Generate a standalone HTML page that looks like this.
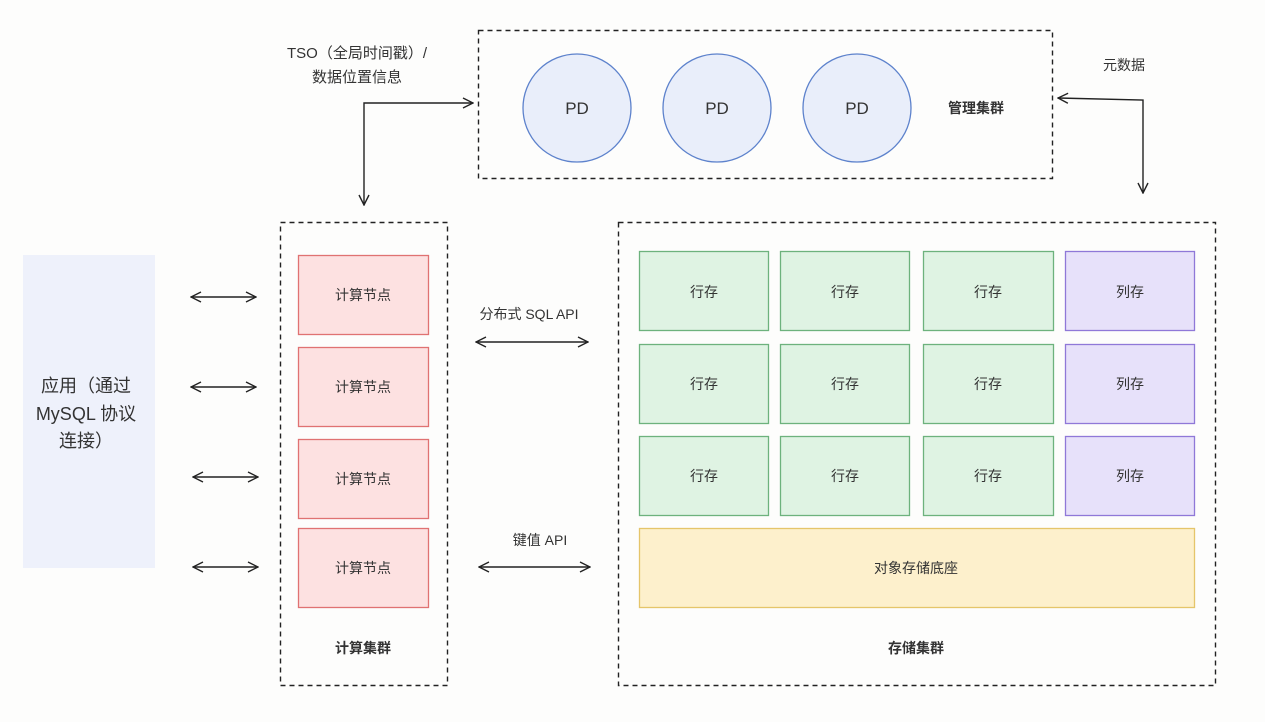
<!DOCTYPE html>
<html><head><meta charset="utf-8"><style>
html,body{margin:0;padding:0;background:#fdfdfc;}
svg{display:block;}
text{font-family:"Liberation Sans","Noto Sans CJK SC",sans-serif;fill:#333;}
</style></head><body>
<svg width="1265" height="722" viewBox="0 0 1265 722" xmlns="http://www.w3.org/2000/svg">
<defs>
<marker id="a" viewBox="0 0 12 12" refX="11" refY="6" markerWidth="12" markerHeight="12" markerUnits="userSpaceOnUse" orient="auto-start-reverse">
<path d="M1,1 L11,6 L1,11" fill="none" stroke="#222" stroke-width="1.4"/>
</marker>
</defs>
<rect width="1265" height="722" fill="#fdfdfc"/>
<rect x="478.5" y="30.5" width="574" height="148" fill="none" stroke="#222" stroke-width="1.4" stroke-dasharray="5,4"/>
<g fill="#e9eefa" stroke="#5d82cc" stroke-width="1.3">
<circle cx="577" cy="108" r="54"/><circle cx="717" cy="108" r="54"/><circle cx="857" cy="108" r="54"/>
</g>
<g font-size="17" text-anchor="middle">
<text x="577" y="114">PD</text><text x="717" y="114">PD</text><text x="857" y="114">PD</text>
</g>
<text x="976" y="113" font-size="14" font-weight="bold" text-anchor="middle">管理集群</text>
<text x="357" y="58" font-size="15" text-anchor="middle">TSO（全局时间戳）/</text>
<text x="357" y="82" font-size="15" text-anchor="middle">数据位置信息</text>
<polyline points="364,205 364,103 473,103" fill="none" stroke="#222" stroke-width="1.4" marker-start="url(#a)" marker-end="url(#a)"/>
<text x="1124" y="70" font-size="14" text-anchor="middle">元数据</text>
<polyline points="1058,98 1143,100 1143,193" fill="none" stroke="#222" stroke-width="1.4" marker-start="url(#a)" marker-end="url(#a)"/>
<rect x="23" y="255" width="132" height="313" fill="#eef1fb"/>
<g font-size="18" text-anchor="middle">
<text x="86" y="392">应用（通过</text>
<text x="86" y="420">MySQL 协议</text>
<text x="86" y="447">连接）</text>
</g>
<g stroke="#222" stroke-width="1.4" marker-start="url(#a)" marker-end="url(#a)">
<line x1="191" y1="297" x2="256" y2="297"/>
<line x1="191" y1="387" x2="256" y2="387"/>
<line x1="193" y1="477" x2="258" y2="477"/>
<line x1="193" y1="567" x2="258" y2="567"/>
<line x1="476" y1="342" x2="588" y2="342"/>
<line x1="479" y1="567" x2="590" y2="567"/>
</g>
<text x="529" y="319" font-size="14" text-anchor="middle">分布式 SQL API</text>
<text x="540" y="545" font-size="14" text-anchor="middle">键值  API</text>
<rect x="280.5" y="222.5" width="167" height="463" fill="none" stroke="#222" stroke-width="1.4" stroke-dasharray="5,4"/>
<g fill="#fde1e1" stroke="#e07272" stroke-width="1.3">
<rect x="298.5" y="255.5" width="130" height="79"/>
<rect x="298.5" y="347.5" width="130" height="79"/>
<rect x="298.5" y="439.5" width="130" height="79"/>
<rect x="298.5" y="528.5" width="130" height="79"/>
</g>
<g font-size="14" text-anchor="middle">
<text x="363" y="300">计算节点</text><text x="363" y="392">计算节点</text>
<text x="363" y="484">计算节点</text><text x="363" y="573">计算节点</text>
</g>
<text x="363" y="653" font-size="14" font-weight="bold" text-anchor="middle">计算集群</text>
<rect x="618.5" y="222.5" width="597" height="463" fill="none" stroke="#222" stroke-width="1.4" stroke-dasharray="5,4"/>
<g fill="#dff3e3" stroke="#6db27d" stroke-width="1.3">
<rect x="639.5" y="251.5" width="129" height="79"/><rect x="780.5" y="251.5" width="129" height="79"/><rect x="923.5" y="251.5" width="130" height="79"/>
<rect x="639.5" y="344.5" width="129" height="79"/><rect x="780.5" y="344.5" width="129" height="79"/><rect x="923.5" y="344.5" width="130" height="79"/>
<rect x="639.5" y="436.5" width="129" height="79"/><rect x="780.5" y="436.5" width="129" height="79"/><rect x="923.5" y="436.5" width="130" height="79"/>
</g>
<g fill="#e7e1fa" stroke="#8f78d8" stroke-width="1.3">
<rect x="1065.5" y="251.5" width="129" height="79"/><rect x="1065.5" y="344.5" width="129" height="79"/><rect x="1065.5" y="436.5" width="129" height="79"/>
</g>
<g font-size="14" text-anchor="middle">
<text x="704" y="297">行存</text><text x="845" y="297">行存</text><text x="988" y="297">行存</text><text x="1130" y="297">列存</text>
<text x="704" y="389">行存</text><text x="845" y="389">行存</text><text x="988" y="389">行存</text><text x="1130" y="389">列存</text>
<text x="704" y="481">行存</text><text x="845" y="481">行存</text><text x="988" y="481">行存</text><text x="1130" y="481">列存</text>
</g>
<rect x="639.5" y="528.5" width="555" height="79" fill="#fdf0cc" stroke="#e5c56a" stroke-width="1.3"/>
<text x="916" y="573" font-size="14" text-anchor="middle">对象存储底座</text>
<text x="916" y="653" font-size="14" font-weight="bold" text-anchor="middle">存储集群</text>
</svg>
</body></html>
